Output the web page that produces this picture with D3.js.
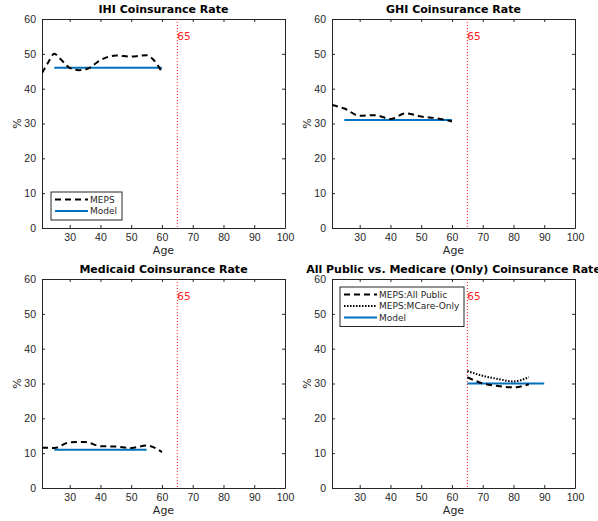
<!DOCTYPE html>
<html>
<head>
<meta charset="utf-8">
<script src="https://cdn.jsdelivr.net/npm/d3@7"></script>
<style>
  body { margin: 0; background: #fff; }
  svg { font-family: "DejaVu Sans", sans-serif; }
</style>
</head>
<body>
<svg id="chart"></svg>
<script>
const width = 598;
const height = 521;

// data (age, percent)
const ihiAges = [21, 23, 25, 27, 30, 33, 36, 40, 45, 50, 55, 57, 60];
const ihiMeps = [44.5, 47.5, 50.0, 48.5, 46.0, 45.3, 45.8, 48.2, 49.5, 49.2, 49.6, 48.5, 44.8];
const ihiModel = 46;

const ghiAges = [21, 25, 30, 35, 40, 45, 50, 55, 60];
const ghiMeps = [35.3, 34.3, 32.2, 32.4, 31.3, 32.9, 32.0, 31.5, 30.6];
const ghiModel = 31;

const mcaidAges = [21, 25, 30, 35, 40, 45, 50, 55, 60];
const mcaidMeps = [11.6, 11.5, 13.1, 13.2, 12.0, 11.9, 11.5, 12.2, 10.3];
const mcaidModel = 11;

const pubAges = [65, 67, 70, 75, 80, 85];
const pubMeps = [31.8, 31.0, 30.0, 29.3, 28.9, 29.8];
const mcareAges = [65, 70, 75, 80, 85];
const mcareMeps = [33.6, 32.2, 31.3, 30.6, 31.8];
const pubModel = 30;

const xTicks = [30, 40, 50, 60, 70, 80, 90, 100];
const yTicks = [0, 10, 20, 30, 40, 50, 60];
const cutoff = 65;

const blue = "#0072BD";
const axisGray = "#262626";

const panels = [
  {title: "IHI Coinsurance Rate", left: 42, top: 19,
   series: [{x: ihiAges, y: ihiMeps, style: "dash"}],
   model: {from: 25, to: 60, y: ihiModel},
   legend: {x: 51, y: 192, w: 71, items: [["MEPS", "dash"], ["Model", "model"]]}},
  {title: "GHI Coinsurance Rate", left: 332, top: 19,
   series: [{x: ghiAges, y: ghiMeps, style: "dash"}],
   model: {from: 25, to: 60, y: ghiModel}},
  {title: "Medicaid Coinsurance Rate", left: 42, top: 279,
   series: [{x: mcaidAges, y: mcaidMeps, style: "dash"}],
   model: {from: 25, to: 55, y: mcaidModel}},
  {title: "All Public vs. Medicare (Only) Coinsurance Rate", left: 332, top: 279,
   series: [{x: pubAges, y: pubMeps, style: "dash"}, {x: mcareAges, y: mcareMeps, style: "dot"}],
   model: {from: 65, to: 90, y: pubModel},
   legend: {x: 340, y: 287, w: 124, items: [["MEPS:All Public", "dash"], ["MEPS:MCare-Only", "dot"], ["Model", "model"]]}}
];

const pw = 243, ph = 209;

const svg = d3.select("#chart")
  .attr("width", width)
  .attr("height", height);

function styleLine(sel, style) {
  if (style === "dash") {
    sel.attr("stroke", "#000").attr("stroke-width", 2).attr("stroke-dasharray", "6,4");
  } else if (style === "dot") {
    sel.attr("stroke", "#000").attr("stroke-width", 2).attr("stroke-dasharray", "1.5,1.5");
  } else {
    sel.attr("stroke", blue).attr("stroke-width", 2);
  }
  return sel.attr("fill", "none");
}

panels.forEach(p => {
  const x = d3.scaleLinear().domain([21, 100]).range([p.left, p.left + pw]);
  const y = d3.scaleLinear().domain([0, 60]).range([p.top + ph, p.top]);
  const g = svg.append("g");

  const clipId = "clip" + p.left + "_" + p.top;
  g.append("clipPath").attr("id", clipId)
    .append("rect").attr("x", p.left).attr("y", p.top).attr("width", pw).attr("height", ph);

  // axes with inward ticks, MATLAB-style box
  const bottom = g.append("g").attr("transform", `translate(0,${p.top + ph})`)
    .call(d3.axisBottom(x).tickValues(xTicks).tickSizeInner(-3).tickSizeOuter(0).tickPadding(6));
  const top = g.append("g").attr("transform", `translate(0,${p.top})`)
    .call(d3.axisTop(x).tickValues(xTicks).tickSizeInner(-3).tickSizeOuter(0).tickFormat(""));
  const left = g.append("g").attr("transform", `translate(${p.left},0)`)
    .call(d3.axisLeft(y).tickValues(yTicks).tickSizeInner(-3).tickSizeOuter(0).tickPadding(6));
  const right = g.append("g").attr("transform", `translate(${p.left + pw},0)`)
    .call(d3.axisRight(y).tickValues(yTicks).tickSizeInner(-3).tickSizeOuter(0).tickFormat(""));
  [bottom, top, left, right].forEach(a => {
    a.select(".domain").attr("stroke", axisGray);
    a.selectAll(".tick line").attr("stroke", axisGray);
    a.selectAll("text").attr("fill", axisGray).attr("font-size", 10.5);
  });

  const plot = g.append("g").attr("clip-path", `url(#${clipId})`);

  // cutoff line at 65
  plot.append("line")
    .attr("x1", x(cutoff)).attr("x2", x(cutoff))
    .attr("y1", p.top).attr("y2", p.top + ph)
    .attr("stroke", "#ff2020").attr("stroke-width", 1).attr("stroke-dasharray", "1,2");
  g.append("text")
    .attr("x", x(cutoff)).attr("y", y(55))
    .attr("dy", "0.35em")
    .attr("font-size", 10.5).attr("fill", "#ff2020")
    .text("65");

  const line = d3.line().x(d => x(d[0])).y(d => y(d[1]));

  plot.append("path")
    .datum([[p.model.from, p.model.y], [p.model.to, p.model.y]])
    .call(styleLine, "model")
    .attr("d", line);

  p.series.forEach(s => {
    plot.append("path")
      .datum(s.x.map((a, i) => [a, s.y[i]]))
      .call(styleLine, s.style)
      .attr("d", line.curve(d3.curveMonotoneX));
    line.curve(d3.curveLinear);
  });

  // titles and labels
  g.append("text")
    .attr("x", p.left + pw / 2).attr("y", p.top - 6)
    .attr("text-anchor", "middle")
    .attr("font-weight", "bold").attr("font-size", 11)
    .text(p.title);
  g.append("text")
    .attr("x", p.left + pw / 2).attr("y", p.top + ph + 26)
    .attr("text-anchor", "middle").attr("font-size", 11).attr("fill", axisGray)
    .text("Age");
  g.append("text")
    .attr("transform", `translate(${p.left - 21},${p.top + ph / 2}) rotate(-90)`)
    .attr("text-anchor", "middle").attr("font-size", 11).attr("fill", axisGray)
    .text("%");

  if (p.legend) {
    const L = p.legend;
    const rowH = 11.5;
    const lg = g.append("g");
    lg.append("rect")
      .attr("x", L.x).attr("y", L.y)
      .attr("width", L.w).attr("height", L.items.length * rowH + 5)
      .attr("fill", "#fff").attr("stroke", axisGray).attr("stroke-width", 1);
    L.items.forEach((it, i) => {
      const cy = L.y + 7.5 + i * rowH;
      lg.append("line")
        .attr("x1", L.x + 4).attr("x2", L.x + 37)
        .attr("y1", cy).attr("y2", cy)
        .call(styleLine, it[1]);
      lg.append("text")
        .attr("x", L.x + 39).attr("y", cy).attr("dy", "0.35em")
        .attr("font-size", 9).attr("fill", axisGray)
        .text(it[0]);
    });
  }
});
</script>
</body>
</html>
